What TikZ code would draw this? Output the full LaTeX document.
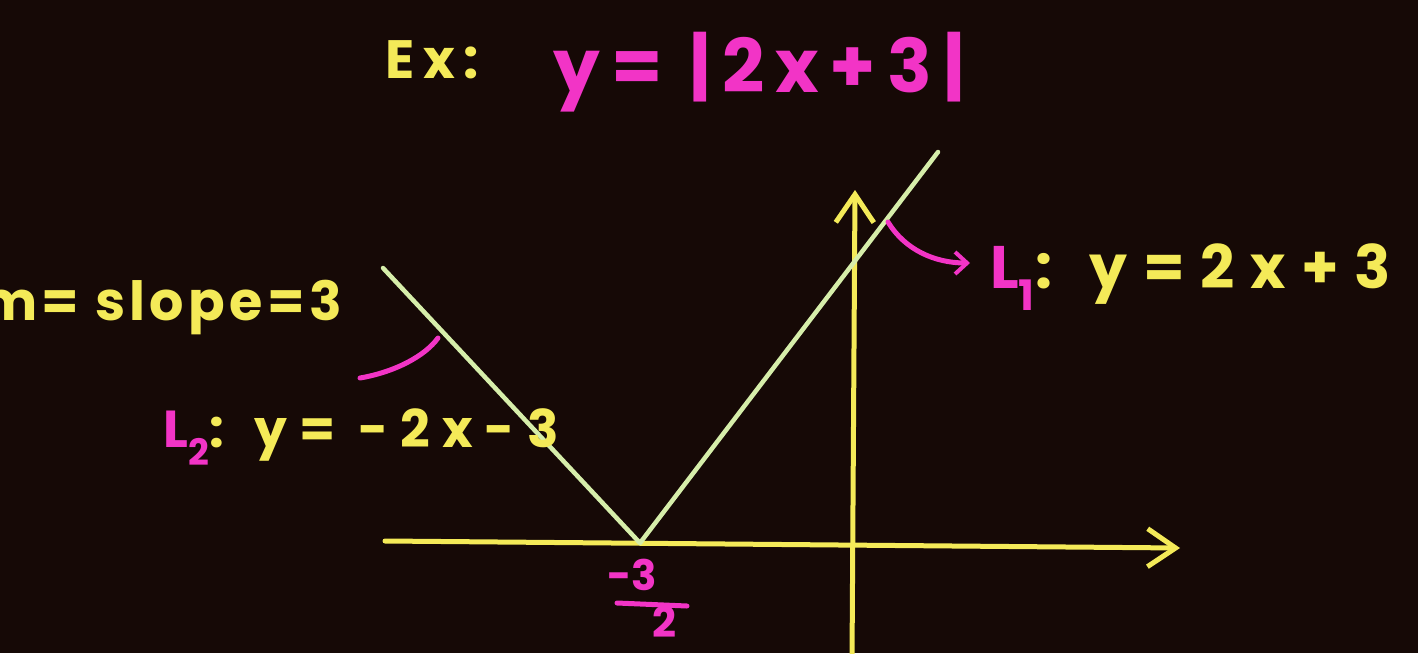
\documentclass[tikz,border=0pt]{standalone}
\usepackage{fontspec}
\setmainfont{Poppins}
\usetikzlibrary{arrows.meta}
\definecolor{bg}{RGB}{22,9,6}
\definecolor{chalky}{RGB}{244,234,88}
\definecolor{chalkm}{RGB}{242,52,198}
\definecolor{chalkg}{RGB}{214,238,170}
\tikzset{
  axis/.style={chalky, line width=5pt, line cap=round},
  vline/.style={chalkg, line width=4.5pt, line cap=round, line join=round},
  pink/.style={chalkm, line width=5pt, line cap=round},
  tipbarb/.style={arrows={-Straight Barb[length=28pt,width=38pt,line width=5pt]}},
  smalltip/.style={arrows={-Straight Barb[length=12pt,width=22pt,line width=4pt]}},
  ylab/.style={text=chalky, inner sep=0pt},
  mlab/.style={text=chalkm, inner sep=0pt}
}
\begin{document}
\begin{tikzpicture}[x=1pt,y=-1pt]
\fill[bg] (0,0) rectangle (1418,653);
\useasboundingbox (0,0) rectangle (1418,653);
\clip (0,0) rectangle (1418,653);
% axes
\coordinate (xl) at (385,541);
\coordinate (xr) at (1180,548);
\coordinate (yb) at (852,660);
\coordinate (yt) at (855,190);
\draw[axis,tipbarb] (xl) -- (xr);
\draw[axis,tipbarb] (yb) -- (yt);
% V graph
\coordinate (a) at (383,268);
\coordinate (v) at (640,543);
\coordinate (b) at (938,152);
\draw[vline] (a) -- (v) -- (b);
% texts
\node[ylab, anchor=base west, font=\fontsize{54}{60}\selectfont\bfseries\addfontfeature{LetterSpace=16}] (ex) at (385,78) {Ex:};
\node[mlab, anchor=base west, font=\fontsize{74}{80}\selectfont\bfseries\addfontfeature{LetterSpace=15}] (title) at (553,92) {y= |2x+3|};
\node[ylab, anchor=base east, font=\fontsize{54}{60}\selectfont\bfseries\addfontfeature{LetterSpace=8}] (slope) at (342,320) {m= slope=3};
\node[ylab, anchor=base west, font=\fontsize{52}{60}\selectfont\bfseries\addfontfeature{LetterSpace=23}] (l2) at (163,447) {\textcolor{chalkm}{L\textsubscript{2}}: y= -2x-3};
\node[ylab, anchor=base west, font=\fontsize{60}{66}\selectfont\bfseries\addfontfeature{LetterSpace=26}] (l1) at (990,288) {\textcolor{chalkm}{L\textsubscript{1}}: y=2x+3};
\node[mlab, anchor=base, font=\fontsize{42}{48}\selectfont\bfseries] (num) at (632,590) {-3};
\node[mlab, anchor=base, font=\fontsize{42}{48}\selectfont\bfseries] (den) at (664,637) {2};
\draw[pink] (617,603) -- (687,606);
% pointers
\coordinate (p1) at (888,222);
\coordinate (p1e) at (970,263);
\draw[pink,smalltip] (p1) .. controls (905,250) and (935,263) .. (p1e);
\coordinate (p2s) at (360,378);
\coordinate (p2e) at (438,338);
\draw[pink] (p2s) .. controls (395,372) and (425,356) .. (p2e);
\end{tikzpicture}
\end{document}
